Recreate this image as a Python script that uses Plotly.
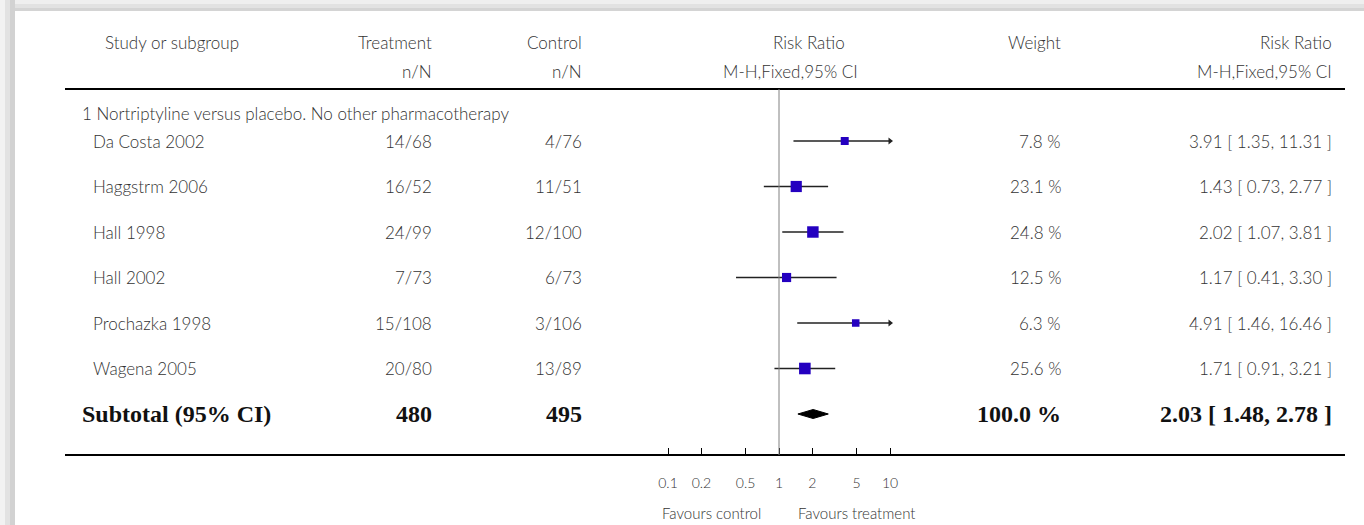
import math
import plotly.graph_objects as go

# ---------------- data ----------------
studies = ["Da Costa 2002", "Haggstrm 2006", "Hall 1998", "Hall 2002", "Prochazka 1998", "Wagena 2005"]
treatment = ["14/68", "16/52", "24/99", "7/73", "15/108", "20/80"]
control = ["4/76", "11/51", "12/100", "6/73", "3/106", "13/89"]
rr = [3.91, 1.43, 2.02, 1.17, 4.91, 1.71]
ci_low = [1.35, 0.73, 1.07, 0.41, 1.46, 0.91]
ci_high = [11.31, 2.77, 3.81, 3.30, 16.46, 3.21]
weights = [7.8, 23.1, 24.8, 12.5, 6.3, 25.6]

subgroup_title = "1 Nortriptyline versus placebo. No other pharmacotherapy"
subtotal_label = "Subtotal (95% CI)"
subtotal_treat = 480
subtotal_ctrl = 495
subtotal_weight = 100.0
subtotal_rr = 2.03
subtotal_low = 1.48
subtotal_high = 2.78

tick_vals = [0.1, 0.2, 0.5, 1, 2, 5, 10]
tick_text = ["0.1", "0.2", "0.5", "1", "2", "5", "10"]
axis_max = 10
favours_left = "Favours control"
favours_right = "Favours treatment"

# ---------------- layout constants ----------------
W, H = 1364, 525
SANS = "Lato"
SERIF = "Liberation Serif"
TXT = "#333333"
BLUE = "#2400c0"
ROW0, STEP = 141, 45.5
rows = [ROW0 + i * STEP for i in range(len(studies))]
SUB_Y = 414
X_CENTER, DECADE = 779, 111  # pixel of RR=1 and pixels per decade
FS = 17
BS = 24

annotations = []


def txt(x, y, s, anchor, size=FS, color=TXT, family=SANS, weight=300):
    annotations.append(dict(
        xref="paper", yref="y", x=x / W, y=y, text=s, xanchor=anchor, yanchor="middle",
        showarrow=False, font=dict(family=family, size=size, color=color, weight=weight)))


# headers
txt(103, 42, "Study or subgroup", "left")
txt(434, 42, "Treatment", "right")
txt(584, 42, "Control", "right")
txt(809, 42, "Risk Ratio", "center")
txt(1063, 42, "Weight", "right")
txt(1334, 42, "Risk Ratio", "right")
txt(434, 71, "n/N", "right")
txt(584, 71, "n/N", "right")
txt(790, 71, "M-H,Fixed,95% CI", "center")
txt(1334, 71, "M-H,Fixed,95% CI", "right")

txt(80, 113, subgroup_title, "left")

for i, s in enumerate(studies):
    y = rows[i]
    txt(91, y, s, "left")
    txt(434, y, treatment[i], "right")
    txt(584, y, control[i], "right")
    txt(1063, y, f"{weights[i]:.1f} %", "right")
    txt(1334, y, f"{rr[i]:.2f} [ {ci_low[i]:.2f}, {ci_high[i]:.2f} ]", "right")

for x, s, a in [(80, subtotal_label, "left"), (434, str(subtotal_treat), "right"),
                (584, str(subtotal_ctrl), "right"), (1063, f"{subtotal_weight:.1f} %", "right"),
                (1334, f"{subtotal_rr:.2f} [ {subtotal_low:.2f}, {subtotal_high:.2f} ]", "right")]:
    txt(x, SUB_Y, s, a, size=BS, color="#111", family=SERIF, weight="bold")

txt(711, 513, favours_left, "center", size=15)
txt(856, 513, favours_right, "center", size=15)

fig = go.Figure()

# CI lines
for i in range(len(studies)):
    hi = min(ci_high[i], axis_max)
    fig.add_trace(go.Scatter(x=[ci_low[i], hi], y=[rows[i], rows[i]], mode="lines",
                             line=dict(color="#222", width=1.3), hoverinfo="skip", showlegend=False))
    if ci_high[i] > axis_max:
        fig.add_trace(go.Scatter(x=[axis_max], y=[rows[i]], mode="markers",
                                 marker=dict(symbol="triangle-right", size=6, color="#222"),
                                 hoverinfo="skip", showlegend=False))

# weight squares
sizes = [3.5 + 1.6 * math.sqrt(w) for w in weights]
fig.add_trace(go.Scatter(x=rr, y=rows, mode="markers",
                         marker=dict(symbol="square", size=sizes, color=BLUE, opacity=1,
                                     line=dict(width=0)),
                         showlegend=False))

# diamond
fig.add_trace(go.Scatter(x=[subtotal_low, subtotal_rr, subtotal_high, subtotal_rr, subtotal_low],
                         y=[SUB_Y, SUB_Y - 4.5, SUB_Y, SUB_Y + 4.5, SUB_Y],
                         mode="lines", fill="toself", fillcolor="#000",
                         line=dict(color="#000", width=1), showlegend=False))

shapes = []
# page shadow (top and left)
for (a, b, c) in [(0, 4, "#efefef"), (4, 8, "#e2e2e2"), (8, 11, "#d4d4d4")]:
    shapes.append(dict(type="rect", xref="paper", yref="y", x0=0, x1=1, y0=a, y1=b,
                       fillcolor=c, line=dict(width=0), layer="below"))
for (a, b, c) in [(0, 5, "#f2f2f2"), (5, 10, "#e2e2e2"), (10, 15, "#d2d2d2")]:
    shapes.append(dict(type="rect", xref="paper", yref="y", x0=a / W, x1=b / W, y0=0, y1=H,
                       fillcolor=c, line=dict(width=0), layer="below"))
# rules
shapes.append(dict(type="line", xref="paper", yref="y", x0=65 / W, x1=1345 / W, y0=89, y1=89,
                   line=dict(color="#000", width=2)))
shapes.append(dict(type="line", xref="paper", yref="y", x0=65 / W, x1=1345 / W, y0=455, y1=455,
                   line=dict(color="#000", width=2)))
shapes.append(dict(type="line", xref="x", yref="y", x0=1, x1=1, y0=89, y1=455,
                   line=dict(color="#808080", width=1)))

fig.update_layout(
    width=W, height=H,
    margin=dict(l=0, r=0, t=0, b=0, autoexpand=False),
    paper_bgcolor="white", plot_bgcolor="rgba(0,0,0,0)",
    shapes=shapes, annotations=annotations,
    xaxis=dict(type="log", range=[-2, 2],
               domain=[(X_CENTER - 2 * DECADE) / W, (X_CENTER + 2 * DECADE) / W],
               anchor="free", position=(H - 455) / H,
               tickvals=tick_vals, ticktext=tick_text,
               ticks="inside", ticklen=7, tickwidth=1.2, tickcolor="#000",
               showline=False, showgrid=False, zeroline=False,
               ticklabelstandoff=18,
               tickfont=dict(family=SANS, size=14, color=TXT, weight=300)),
    yaxis=dict(range=[H, 0], domain=[0, 1], visible=False),
    showlegend=False,
)

fig.write_html("out.html", config={"displayModeBar": False},
               post_script="document.body.style.margin='0';document.body.style.overflow='hidden';")
